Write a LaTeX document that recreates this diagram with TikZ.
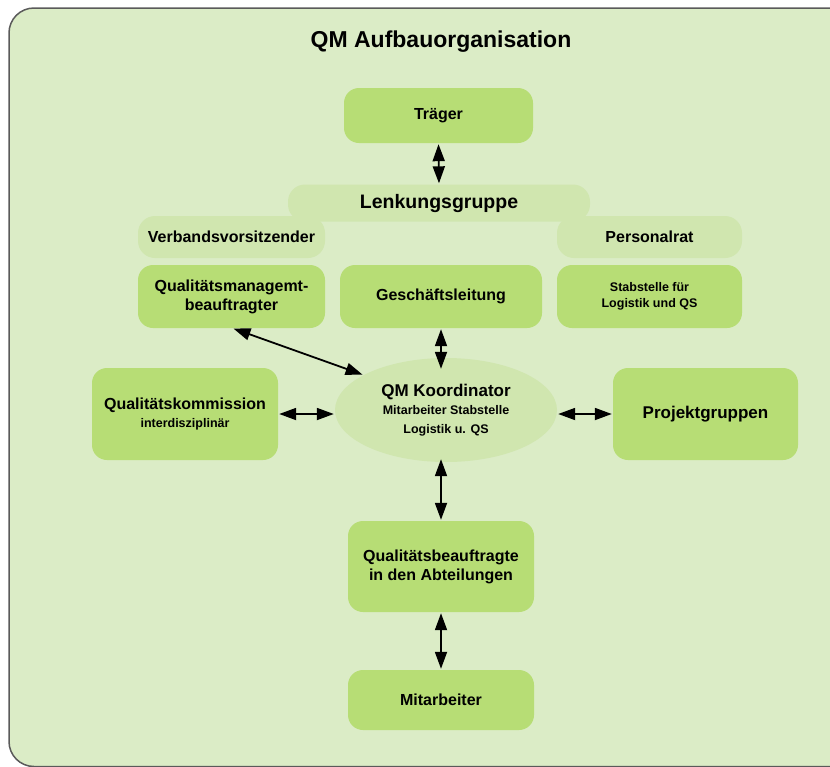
\documentclass[tikz,border=0pt]{standalone}
\usepackage{fontspec}
\setmainfont{Liberation Sans}
\usetikzlibrary{arrows.meta,shapes.geometric}
\definecolor{bg}{RGB}{219,236,198}
\definecolor{dark}{RGB}{183,221,117}
\definecolor{light}{RGB}{208,230,175}
\definecolor{frame}{RGB}{90,90,90}
\tikzset{
  box/.style={fill=dark, rounded corners=15pt, align=center, font=\bfseries\fontsize{16}{19}\selectfont, inner sep=0pt},
  pill/.style={fill=light, rounded corners=17pt, align=center, font=\bfseries\fontsize{16}{19}\selectfont, inner sep=0pt},
  conn/.style={line width=1.8pt, {Triangle[width=12pt,length=17pt]}-{Triangle[width=12pt,length=17pt]}, shorten <=1pt, shorten >=1pt},
}
\begin{document}
\begin{tikzpicture}[x=1pt,y=-1pt]
\useasboundingbox (0,0) rectangle (830,766);
\draw[frame, line width=1.5pt, fill=bg, rounded corners=25pt] (9,8) rectangle (860,766.5);
\node[font=\bfseries\fontsize{23}{27}\selectfont] (title) at (441,42) {QM Aufbauorganisation};
% boxes
\node[box, minimum width=189pt, minimum height=55pt] (traeger) at (438.5,115.5) {Träger};
\node[pill, minimum width=302pt, minimum height=37pt, font=\bfseries\fontsize{19.5}{22}\selectfont] (lenk) at (439,203) {Lenkungsgruppe};
\node[pill, minimum width=187pt, minimum height=42pt] (verb) at (231.5,237) {Verbandsvorsitzender};
\node[pill, minimum width=185pt, minimum height=42pt] (pers) at (649.5,237) {Personalrat};
\node[box, minimum width=187pt, minimum height=63pt] (qmb) at (231.5,296.5) {Qualitätsmanagemt-\\beauftragter};
\node[box, minimum width=202pt, minimum height=63pt] (gl) at (441,296.5) {Geschäftsleitung};
\node[box, minimum width=185pt, minimum height=63pt, font=\bfseries\fontsize{12.5}{16}\selectfont] (stab) at (649.5,296.5) {Stabstelle für\\Logistik und QS};
\node[box, minimum width=186pt, minimum height=92pt] (qk) at (185,414) {Qualitätskommission\\[-1pt]{\fontsize{12.5}{15}\selectfont interdisziplinär}};
\node[ellipse, fill=light, minimum width=222pt, minimum height=104pt, inner sep=0pt, align=center, font=\bfseries\fontsize{17}{19}\selectfont] (qm) at (446,410) {QM Koordinator\\[-1pt]{\fontsize{12.5}{17}\selectfont Mitarbeiter Stabstelle}\\{\fontsize{12.5}{16}\selectfont Logistik u. QS}};
\node[box, minimum width=185pt, minimum height=92pt, font=\bfseries\fontsize{17}{20}\selectfont] (proj) at (705.5,414) {Projektgruppen};
\node[box, minimum width=186pt, minimum height=91pt] (qba) at (441,566.5) {Qualitätsbeauftragte\\in den Abteilungen};
\node[box, minimum width=186pt, minimum height=60pt] (mit) at (441,700) {Mitarbeiter};
% connectors
\draw[conn] (traeger.south) -- (lenk.north);
\draw[conn] (gl.south) -- ([yshift=-12pt]qm.north -| gl.south);
\draw[conn] ([xshift=1pt]qmb.south) -- (qm.157);
\draw[conn] (qk.east) -- (qk.east -| qm.west);
\draw[conn] (proj.west -| qm.east) -- (proj.west);
\draw[conn] ([yshift=4pt]qm.south -| qba.north) -- (qba.north);
\draw[conn] (qba.south) -- (mit.north);
\end{tikzpicture}
\end{document}
